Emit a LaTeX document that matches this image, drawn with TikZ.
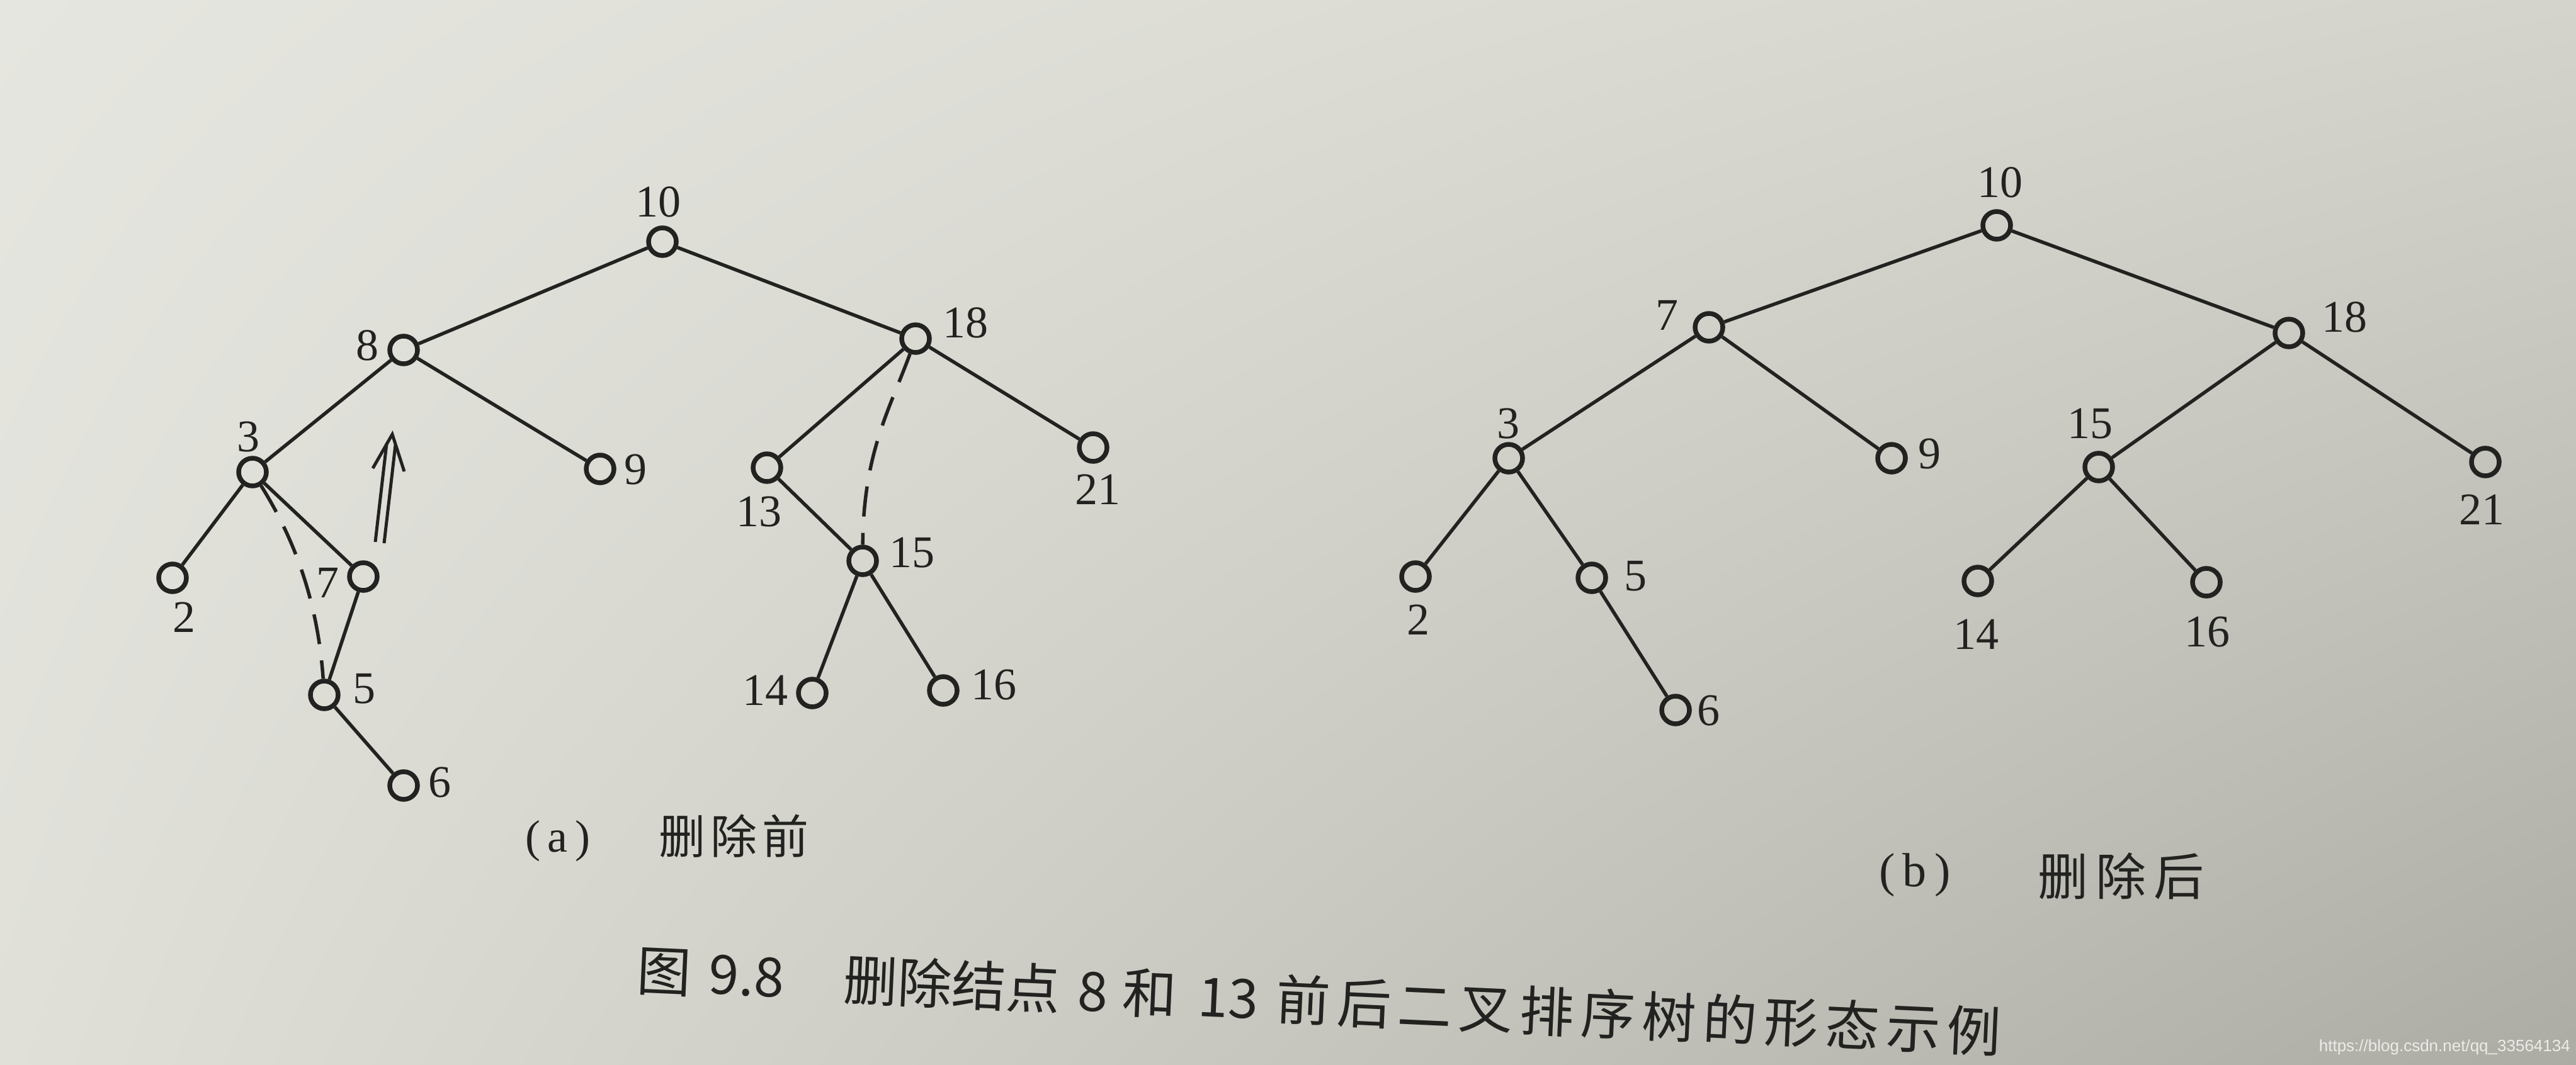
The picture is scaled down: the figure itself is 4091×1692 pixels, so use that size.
\documentclass[tikz,border=0pt]{standalone}
\usepackage{fontspec}
\usetikzlibrary{shadings}
\setmainfont{Liberation Serif}
\newfontfamily\cjk{Noto Sans CJK SC}
\newfontfamily\wmfont{Liberation Sans}
\definecolor{ink}{RGB}{34,34,32}
\definecolor{bgUL}{RGB}{230,230,224}
\definecolor{bgUR}{RGB}{212,212,204}
\definecolor{bgLL}{RGB}{224,224,217}
\definecolor{bgLR}{RGB}{172,172,164}
\definecolor{wm}{RGB}{236,236,232}
\newcommand{\cs}{\hspace{11pt}}
\begin{document}
\begin{tikzpicture}[x=1pt,y=-1pt,
  vtx/.style={circle,draw=ink,line width=7.5pt,minimum size=44pt,inner sep=0pt},
  edge/.style={draw=ink,line width=5.5pt},
  dashedge/.style={draw=ink,line width=5.5pt,dash pattern=on 48pt off 26pt},
  num/.style={text=ink,font=\fontsize{72}{72}\selectfont,inner sep=0pt},
  sub/.style={text=ink,inner sep=0pt},
  figcaption/.style={text=ink,inner sep=0pt,font=\cjk\fontsize{86}{86}\selectfont}]
\useasboundingbox (0,0) rectangle (4091,1692);
\shade[upper left=bgUL,upper right=bgUR,lower left=bgLL,lower right=bgLR] (0,0) rectangle (4091,1692);

% ---------- (a) before deletion ----------
\node[vtx] (a10) at (1052,384) {};
\node[vtx] (a8)  at (641,556) {};
\node[vtx] (a18) at (1454,538) {};
\node[vtx] (a3)  at (401,750) {};
\node[vtx] (a9)  at (953,745) {};
\node[vtx] (a13) at (1218,743) {};
\node[vtx] (a21) at (1736,711) {};
\node[vtx] (a2)  at (274,918) {};
\node[vtx] (a7)  at (577,916) {};
\node[vtx] (a15) at (1370,891) {};
\node[vtx] (a5)  at (515,1104) {};
\node[vtx] (a14) at (1290,1101) {};
\node[vtx] (a16) at (1498,1097) {};
\node[vtx] (a6)  at (641,1248) {};

\node[num] (la10) at (1045,321) {10};
\node[num] (la8)  at (583,549) {8};
\node[num] (la18) at (1533,513) {18};
\node[num] (la3)  at (394,694) {3};
\node[num] (la9)  at (1009,746) {9};
\node[num] (la13) at (1205,813) {13};
\node[num] (la21) at (1743,778) {21};
\node[num] (la2)  at (292,981) {2};
\node[num] (la7)  at (520,926) {7};
\node[num] (la15) at (1448,878) {15};
\node[num] (la5)  at (578,1094) {5};
\node[num] (la14) at (1215,1097) {14};
\node[num] (la16) at (1578,1088) {16};
\node[num] (la6)  at (698,1243) {6};

\draw[edge] (a10) -- (a8);
\draw[edge] (a10) -- (a18);
\draw[edge] (a8) -- (a3);
\draw[edge] (a8) -- (a9);
\draw[edge] (a3) -- (a2);
\draw[edge] (a3) -- (a7);
\draw[edge] (a7) -- (a5);
\draw[edge] (a5) -- (a6);
\draw[edge] (a18) -- (a13);
\draw[edge] (a18) -- (a21);
\draw[edge] (a13) -- (a15);
\draw[edge] (a15) -- (a14);
\draw[edge] (a15) -- (a16);

\draw[dashedge] (a3) .. controls (470,860) and (505,960) .. (a5);
\draw[dashedge] (a18) .. controls (1413,650) and (1371,720) .. (a15);

% double arrow (upwards)
\coordinate (sL0) at (596,861);
\coordinate (sR0) at (610,863);
\coordinate (sL1) at (614,705);
\coordinate (sR1) at (628,707);
\coordinate (tip) at (623,690);
\coordinate (wL) at (592,744);
\coordinate (wR) at (642,749);
\draw[edge,line width=5pt] (sL0) -- (sL1);
\draw[edge,line width=5pt] (sR0) -- (sR1);
\draw[edge,line width=5pt,line join=miter] (wL) -- (tip) -- (wR);

\node[sub,font=\fontsize{72}{72}\selectfont] (capa) at (886,1336) {(\,a\,)};
\node[sub,font=\cjk\fontsize{74}{74}\selectfont,anchor=west] (capaz) at (1046,1328) {删\hspace{8pt}除\hspace{8pt}前};

% ---------- (b) after deletion ----------
\node[vtx] (b10) at (3171,358) {};
\node[vtx] (b7)  at (2714,520) {};
\node[vtx] (b18) at (3635,529) {};
\node[vtx] (b3)  at (2396,728) {};
\node[vtx] (b9)  at (3004,728) {};
\node[vtx] (b15) at (3333,742) {};
\node[vtx] (b21) at (3947,734) {};
\node[vtx] (b2)  at (2248,916) {};
\node[vtx] (b5)  at (2528,918) {};
\node[vtx] (b14) at (3141,923) {};
\node[vtx] (b16) at (3504,925) {};
\node[vtx] (b6)  at (2661,1128) {};

\node[num] (lb10) at (3176,290) {10};
\node[num] (lb7)  at (2647,501) {7};
\node[num] (lb18) at (3723,504) {18};
\node[num] (lb3)  at (2395,673) {3};
\node[num] (lb9)  at (3064,721) {9};
\node[num] (lb15) at (3319,673) {15};
\node[num] (lb21) at (3941,810) {21};
\node[num] (lb2)  at (2252,985) {2};
\node[num] (lb5)  at (2597,915) {5};
\node[num] (lb14) at (3138,1008) {14};
\node[num] (lb16) at (3505,1004) {16};
\node[num] (lb6)  at (2713,1129) {6};

\draw[edge] (b10) -- (b7);
\draw[edge] (b10) -- (b18);
\draw[edge] (b7) -- (b3);
\draw[edge] (b7) -- (b9);
\draw[edge] (b3) -- (b2);
\draw[edge] (b3) -- (b5);
\draw[edge] (b5) -- (b6);
\draw[edge] (b18) -- (b15);
\draw[edge] (b18) -- (b21);
\draw[edge] (b15) -- (b14);
\draw[edge] (b15) -- (b16);

\node[sub,font=\fontsize{76}{76}\selectfont] (capb) at (3041,1390) {(\,b\,)};
\node[sub,font=\cjk\fontsize{80}{80}\selectfont,anchor=west] (capbz) at (3236,1392) {删\hspace{12pt}除\hspace{12pt}后};

% ---------- figure caption ----------
\node[figcaption,anchor=west,rotate=-2.6] (figcap) at (1012,1541)
  {图\hspace{28pt}9.8\hspace{95pt}删除结点\hspace{28pt}8\hspace{24pt}和\hspace{34pt}13\hspace{28pt}前\cs 后\cs 二\cs 叉\cs 排\cs 序\cs 树\cs 的\cs 形\cs 态\cs 示\cs 例};

% ---------- watermark ----------
\node[inner sep=0pt,anchor=east,text=wm,font=\wmfont\fontsize{26}{26}\selectfont] (wmk) at (4082,1664) {https://blog.csdn.net/qq\_33564134};
\end{tikzpicture}
\end{document}
